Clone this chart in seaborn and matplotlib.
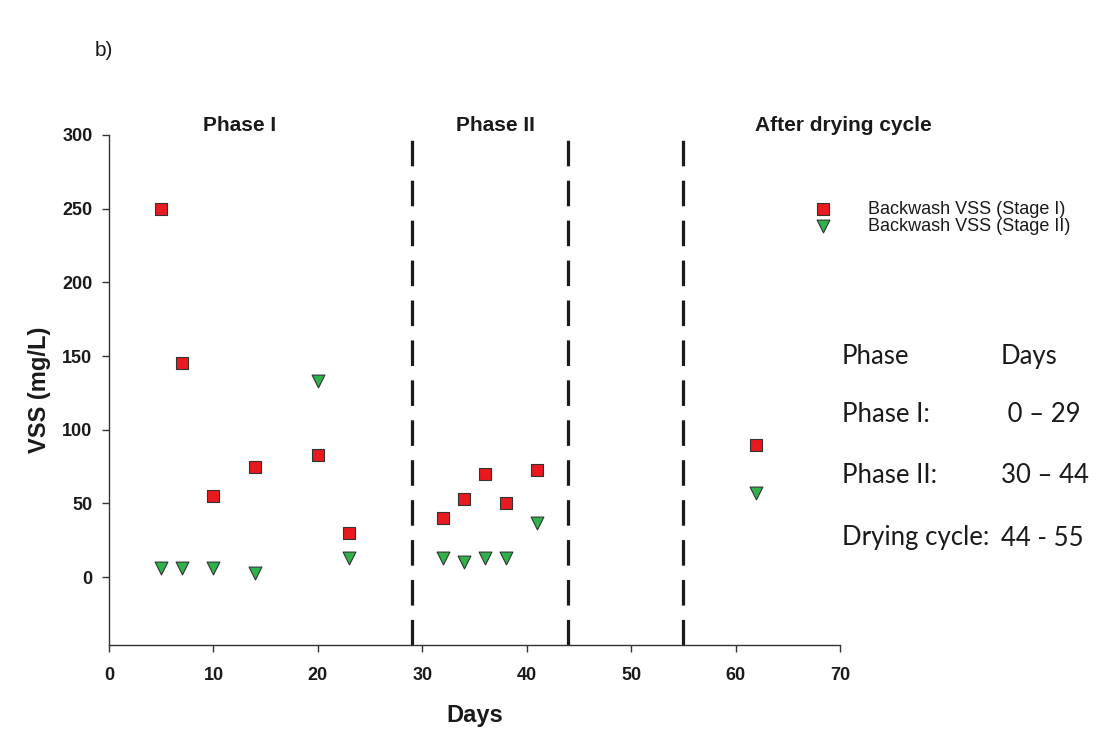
import matplotlib
matplotlib.use("Agg")
import matplotlib.pyplot as plt
import seaborn as sns
import pandas as pd
import numpy as np

days = [5, 7, 10, 14, 20, 23, 32, 34, 36, 38, 41, 62]
vss_stage1 = [250, 145, 55, 75, 83, 30, 40, 53, 70, 50, 73, 90]
vss_stage2 = [6, 6, 6, 3, 133, 13, 13, 10, 13, 13, 37, 57]
phase_bounds = [29, 44, 55]
phase_names = ["Phase I", "Phase II", "After drying cycle"]
phase_label_x = [12.5, 37, 70.3]
table_rows = [("Phase", "Days"), ("Phase I:", " 0 \u2013 29"),
              ("Phase II:", "30 \u2013 44"), ("Drying cycle:", "44 - 55")]

df = pd.DataFrame({"Days": days, "Stage I": vss_stage1, "Stage II": vss_stage2})

sns.set_theme(style="ticks")
plt.rcParams["font.family"] = ["Liberation Sans", "DejaVu Sans"]

fig = plt.figure(figsize=(10.97, 7.32), dpi=100)
ax = fig.add_axes([0.0994, 0.1189, 0.6663, 0.6967])

sns.scatterplot(data=df, x="Days", y="Stage I", marker="s", s=68, color="#e8191f",
                edgecolor="#333333", linewidth=0.8, label="Backwash VSS (Stage I)", ax=ax, zorder=3)
sns.scatterplot(data=df, x="Days", y="Stage II", marker="v", s=85, color="#2db34a",
                edgecolor="#333333", linewidth=0.8, label="Backwash VSS (Stage II)", ax=ax, zorder=3)

for b in phase_bounds:
    ax.axvline(b, color="#1a1a1a", linewidth=2.3, linestyle=(0, (8, 4.5)), zorder=2)

ax.set_xlim(0, 70)
ax.set_ylim(-46, 300)
ax.set_xticks(range(0, 71, 10))
ax.set_yticks(range(0, 301, 50))
ax.spines["top"].set_visible(False)
ax.spines["right"].set_visible(False)
for s in ["left", "bottom"]:
    ax.spines[s].set_color("#333333")
    ax.spines[s].set_linewidth(1.0)
ax.tick_params(axis="both", direction="out", length=5, width=1, color="#333333",
               labelsize=13)
ax.tick_params(axis="x", pad=11)
ax.tick_params(axis="y", pad=7)
for lab in ax.get_xticklabels() + ax.get_yticklabels():
    lab.set_fontweight("bold")
    lab.set_color("#1a1a1a")
ax.set_xlabel("Days", fontsize=17, fontweight="bold", labelpad=14, color="#1a1a1a")
ax.set_ylabel("VSS (mg/L)", fontsize=17, fontweight="bold", labelpad=8, color="#1a1a1a")

for name, xp in zip(phase_names, phase_label_x):
    ax.text(xp, 300, name, ha="center", va="bottom", fontsize=15, fontweight="bold",
            color="#1a1a1a", clip_on=False)

leg = ax.legend(loc="upper left", bbox_to_anchor=(798 / 1097, 1 - 194 / 732),
                bbox_transform=fig.transFigure, frameon=False, fontsize=13,
                handletextpad=1.5, labelspacing=0.0, borderaxespad=0, markerscale=1.0)
for t in leg.get_texts():
    t.set_color("#1a1a1a")

row_y = [357, 414, 476, 538]
for (left, right), yp in zip(table_rows, row_y):
    fig.text(842 / 1097, 1 - yp / 732, left, fontsize=18.5, family="Lato",
             va="center", ha="left", color="#1a1a1a")
    fig.text(1001 / 1097, 1 - yp / 732, right, fontsize=18.5, family="Lato",
             va="center", ha="left", color="#1a1a1a")

fig.text(95 / 1097, 1 - 51 / 732, "b)", fontsize=15, va="center", ha="left", color="#1a1a1a")

fig.savefig("out.png", dpi=100)
